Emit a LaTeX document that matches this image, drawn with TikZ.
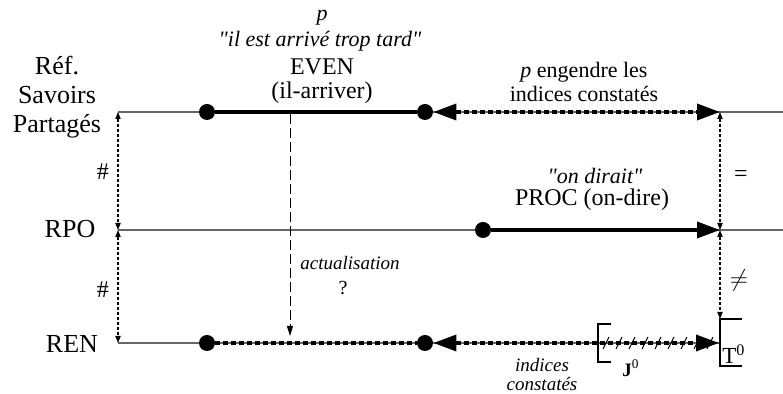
\documentclass[tikz,border=0pt]{standalone}
\usepackage{fontspec}
\setmainfont{Liberation Serif}
\usetikzlibrary{arrows.meta}
\begin{document}
\begin{tikzpicture}[x=0.5pt,y=-0.5pt,
    axe/.style={gray!80!black,line width=0.6pt},
    seg/.style={line width=1.8pt},
    pointille/.style={line width=1.8pt,dash pattern=on 2.5pt off 1.5pt},
    grand/.style={-{Triangle[length=11.5pt,width=8pt]}},
    ecart/.style={line width=0.55pt,dash pattern=on 1.5pt off 1pt,
      {Triangle[length=3.5pt,width=2.6pt]}-{Triangle[length=3.5pt,width=2.6pt]}},
    borne/.style={circle,fill,inner sep=0pt,minimum size=8pt},
    lbl/.style={font=\fontsize{12}{14}\selectfont},
    it/.style={font=\fontsize{11}{13}\selectfont\itshape},
    pit/.style={font=\fontsize{9.5}{11}\selectfont\itshape}]
  \useasboundingbox (0,0) rectangle (783,394);
  % les trois plans de reference
  \coordinate (sp-l) at (118,112);
  \coordinate (sp-r) at (783,112);
  \coordinate (po-l) at (118,230);
  \coordinate (po-r) at (783,230);
  \coordinate (en-l) at (118,343);
  \coordinate (sp-t) at (720,112);
  \coordinate (po-t) at (720,230);
  \coordinate (en-t) at (719,343);
  \draw[axe] (sp-l) -- (sp-r);
  \draw[axe] (po-l) -- (po-r);
  \draw[axe] (en-l) -- (en-t);
  \node[font=\fontsize{13}{14.5}\selectfont,align=center] (sp) at (57,97) {Réf.\\Savoirs\\Partagés};
  \node[font=\fontsize{13}{14}\selectfont] (po) at (70,229) {RPO};
  \node[font=\fontsize{13}{14}\selectfont] (en) at (72,344) {REN};
  % bornes
  \node[borne] (e1) at (207,112) {};
  \node[borne] (e2) at (425,112) {};
  \node[borne] (pr) at (483,230) {};
  \node[borne] (n1) at (207,343) {};
  \node[borne] (n2) at (425,343) {};
  \draw[seg] (e1) -- (e2);
  \draw[pointille,{Triangle[length=11.5pt,width=8pt]}-{Triangle[length=11.5pt,width=8pt]}] (e2) -- (sp-t);
  \draw[seg,grand] (pr) -- (po-t);
  \draw[pointille] (n1) -- (n2);
  \draw[pointille,{Triangle[length=11.5pt,width=8pt]}-{Triangle[length=11.5pt,width=8pt]}] (n2) -- (en-t);
  % ecarts entre plans
  \draw[ecart] (sp-l) -- (po-l);
  \draw[ecart] (po-l) -- (en-l);
  \draw[ecart] (sp-t) -- (po-t);
  \coordinate (t-h) at (720,319);
  \draw[ecart] (po-t) -- (t-h);
  \node[lbl] (d1) at (103,172) {\#};
  \node[lbl] (d2) at (103,290) {\#};
  \node[lbl] (eg) at (741,176) {=};
  \node[lbl] (ne) at (739,281) {$\neq$};
  % bornes J0 et T0
  \draw[line width=0.6pt] (742,319) -- (t-h) -- (720,366) -- (742,366);
  \draw[line width=0.6pt] (611,324) -- (598,324) -- (598,362) -- (611,362);
  \foreach \x in {606,619,...,710}
    \draw[line width=0.5pt] (\x-3,349) -- (\x+3,337);
  \node[font=\fontsize{11.5}{13}\selectfont,anchor=base west,inner sep=0pt] (t0) at (722,364) {T\textsuperscript{0}};
  \node[font=\fontsize{9.5}{11}\selectfont\bfseries] (j0) at (631,368) {J\textsuperscript{\mdseries 0}};
  % actualisation
  \coordinate (a-h) at (290,114);
  \coordinate (a-b) at (290,336);
  \draw[line width=0.5pt,dash pattern=on 5pt off 2pt,-{Triangle[length=5pt,width=3pt]}] (a-h) -- (a-b);
  \node[pit] (act) at (350,263) {actualisation};
  \node[font=\fontsize{10}{12}\selectfont] (q) at (343,288) {?};
  % etiquettes
  \node[it] (p) at (322,18) {p};
  \node[it] (dit) at (320,41) {\textquotedbl il est arrivé trop tard\textquotedbl};
  \node[lbl] (even) at (322,67) {EVEN};
  \node[lbl] (arr) at (322,93) {(il-arriver)};
  \node[font=\fontsize{11}{13}\selectfont] (eng) at (584,72) {\textit{p} engendre les};
  \node[font=\fontsize{11}{13}\selectfont] (ind) at (584,94) {indices constatés};
  \node[it] (dir) at (595,176) {\textquotedbl on dirait\textquotedbl};
  \node[lbl] (proc) at (592,200) {PROC (on-dire)};
  \node[pit] (ic1) at (542,365) {indices};
  \node[pit] (ic2) at (542,384) {constatés};
\end{tikzpicture}
\end{document}
